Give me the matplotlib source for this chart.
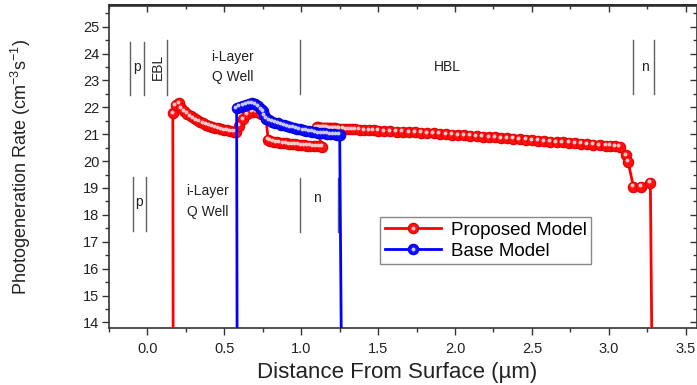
import numpy as np
import matplotlib
matplotlib.use('Agg')
from matplotlib import pyplot as plt
from matplotlib import transforms
from matplotlib.legend_handler import HandlerTuple

plt.rcParams['font.family'] = ['Liberation Sans', 'DejaVu Sans']
plt.rcParams['mathtext.default'] = 'regular'

# Proposed model (red)
prop_x = [0.168, 0.165, 0.184, 0.205, 0.22, 0.24, 0.26, 0.28, 0.30, 0.32, 0.34, 0.36,
          0.38, 0.40, 0.42, 0.44, 0.46, 0.48, 0.50, 0.52, 0.54, 0.56, 0.575,
          0.595, 0.62, 0.65, 0.68, 0.71, 0.74, 0.77, 0.785,
          0.80, 0.82, 0.84, 0.86, 0.88, 0.90, 0.92, 0.94, 0.96, 0.98, 1.00, 1.02,
          1.04, 1.06, 1.08, 1.10, 1.12, 1.135,
          1.10, 1.11, 1.12, 1.13, 1.14, 1.15, 1.16, 1.17, 1.18, 1.19, 1.20, 1.21,
          1.22, 1.23, 1.24, 1.25, 1.27, 1.29, 1.31, 1.33, 1.35, 1.38, 1.41, 1.44,
          1.47, 1.50, 1.54, 1.58, 1.62, 1.66, 1.70, 1.74, 1.78, 1.82, 1.86, 1.90,
          1.94, 1.98, 2.02, 2.06, 2.10, 2.14, 2.18, 2.22, 2.26, 2.30, 2.34, 2.38,
          2.42, 2.46, 2.50, 2.54, 2.58, 2.62, 2.66, 2.70, 2.74, 2.78, 2.82, 2.86,
          2.90, 2.94, 2.98, 3.01, 3.04, 3.07,
          3.11, 3.125, 3.16, 3.21, 3.27, 3.285]
prop_y = [10.0, 21.78, 22.09, 22.15, 21.98, 21.86, 21.76, 21.67, 21.59, 21.52, 21.46, 21.41,
          21.36, 21.32, 21.28, 21.25, 21.22, 21.19, 21.16, 21.14, 21.12, 21.10, 21.09,
          21.32, 21.56, 21.74, 21.84, 21.84, 21.75, 21.62, 20.80,
          20.76, 20.73, 20.71, 20.69, 20.67, 20.66, 20.64, 20.63, 20.62, 20.61, 20.60, 20.59,
          20.58, 20.57, 20.56, 20.555, 20.55, 20.54,
          21.26, 21.26, 21.25, 21.25, 21.25, 21.24, 21.24, 21.24, 21.23, 21.23, 21.22, 21.22,
          21.22, 21.21, 21.21, 21.20, 21.20, 21.19, 21.19, 21.18, 21.18, 21.17, 21.16, 21.15,
          21.14, 21.13, 21.12, 21.11, 21.10, 21.09, 21.08, 21.07, 21.06, 21.04, 21.03, 21.02,
          21.00, 20.99, 20.97, 20.96, 20.94, 20.93, 20.91, 20.90, 20.88, 20.86, 20.85, 20.83,
          20.81, 20.80, 20.78, 20.76, 20.75, 20.73, 20.71, 20.70, 20.68, 20.66, 20.65, 20.63,
          20.61, 20.60, 20.58, 20.57, 20.55, 20.53,
          20.23, 19.98, 19.05, 19.05, 19.20, 10.0]

# Base model (blue)
base_x = [0.584, 0.58, 0.60, 0.62, 0.64, 0.66, 0.68, 0.70, 0.72, 0.74, 0.75, 0.76, 0.77,
          0.79, 0.81, 0.83, 0.85, 0.87, 0.89, 0.91, 0.93, 0.95, 0.97, 0.99, 1.01, 1.03,
          1.05, 1.07, 1.09, 1.11, 1.13, 1.15, 1.17, 1.19, 1.21, 1.23, 1.25, 1.265]
base_y = [10.0, 21.98, 22.02, 22.06, 22.10, 22.13, 22.15, 22.12, 22.04, 21.93, 21.85, 21.70, 21.58,
          21.52, 21.47, 21.43, 21.40, 21.36, 21.33, 21.30, 21.27, 21.24, 21.21, 21.18, 21.15, 21.13,
          21.11, 21.09, 21.07, 21.05, 21.04, 21.03, 21.02, 21.01, 21.00, 20.99, 20.98, 10.0]

# region markers: (x, ymin, ymax)
top_lines = [(-0.115, 22.46, 24.44), (-0.022, 22.46, 24.44), (0.13, 22.46, 24.5),
             (0.995, 22.5, 24.5), (3.16, 22.5, 24.5), (3.295, 22.5, 24.5)]
bot_lines = [(-0.097, 17.41, 19.42), (-0.011, 17.41, 19.42), (0.995, 17.37, 19.37),
             (1.24, 17.37, 19.37)]
labels = [(-0.065, 23.5, 'p', 0), (0.065, 23.5, 'EBL', 90), (0.556, 23.88, 'i-Layer', 0),
          (0.556, 23.12, 'Q Well', 0), (1.948, 23.5, 'HBL', 0), (3.235, 23.5, 'n', 0),
          (-0.054, 18.49, 'p', 0), (0.39, 18.9, 'i-Layer', 0), (0.39, 18.12, 'Q Well', 0),
          (1.10, 18.62, 'n', 0)]

fig = plt.figure(figsize=(6.97, 3.85), dpi=100)
ax = fig.add_axes([109/697, 1-328.3/385, (696.5-109)/697, (328.3-5.5)/385])

hl = transforms.offset_copy(ax.transData, fig=fig, x=-0.9, y=1.0, units='points')

p1, = ax.plot(prop_x, prop_y, color='#ff0000', lw=2, marker='o', ms=7.5,
              mfc='#ff1010', mec='#e00000', mew=0.8, zorder=3)
p1h, = ax.plot(prop_x, prop_y, ls='none', marker='o', ms=2.8, mfc='#ffc8c8', mec='none',
               transform=hl, zorder=3)
b1, = ax.plot(base_x, base_y, color='#0000ff', lw=2, marker='o', ms=7.5,
              mfc='#1010ff', mec='#0000e0', mew=0.8, zorder=4)
b1h, = ax.plot(base_x, base_y, ls='none', marker='o', ms=2.8, mfc='#c8c8ff', mec='none',
               transform=hl, zorder=4)

for x, y0, y1 in top_lines + bot_lines:
    ax.plot([x, x], [y0, y1], color='#606060', lw=1.0, zorder=2)
for x, y, s, r in labels:
    ax.text(x, y, s, ha='center', va='center', rotation=r, fontsize=10, color='#222222')

ax.set_xlim(-0.245, 3.57)
ax.set_ylim(13.78, 25.79)
ax.set_xticks(np.arange(0, 3.6, 0.5))
ax.set_xticks(np.arange(-0.25, 3.6, 0.25), minor=True)
ax.set_yticks(np.arange(14, 26, 1))
ax.set_yticks(np.arange(14, 26, 0.5), minor=True)
ax.xaxis.set_major_formatter(matplotlib.ticker.FormatStrFormatter('%.1f'))
ax.tick_params(which='major', direction='out', length=5, width=1, labelsize=10.5, colors='#333333')
ax.tick_params(which='minor', direction='out', length=3, width=1, colors='#333333')
ax.tick_params(axis='x', pad=5, labelcolor='#222222')
ax.tick_params(axis='y', pad=2, labelcolor='#222222')
for s in ax.spines.values():
    s.set_linewidth(1.2)
    s.set_color('#333333')

# inward ticks on top and right
secx = ax.secondary_xaxis('top')
secx.set_xticks(np.arange(0, 3.6, 0.5))
secx.set_xticks(np.arange(-0.25, 3.6, 0.25), minor=True)
secx.tick_params(which='major', direction='in', length=5, width=1, labeltop=False, colors='#333333')
secx.tick_params(which='minor', direction='in', length=3, width=1, colors='#333333')
secx.spines['top'].set_linewidth(1.2)
secy = ax.secondary_yaxis('right')
secy.set_yticks(np.arange(14, 26, 1))
secy.set_yticks(np.arange(14, 26, 0.5), minor=True)
secy.tick_params(which='major', direction='in', length=5, width=1, labelright=False, colors='#333333')
secy.tick_params(which='minor', direction='in', length=3, width=1, colors='#333333')

ax.set_xlabel('Distance From Surface (\u00b5m)', fontsize=16, color='#222222')
ax.xaxis.set_label_coords(0.49, -0.105)
ax.set_ylabel('Photogeneration Rate (cm$^{-3}$s$^{-1}$)', fontsize=13,
              family=['Liberation Sans Narrow', 'Liberation Sans', 'DejaVu Sans'], color='#222222')
ax.yaxis.set_label_coords(-0.13, 0.5)

leg = ax.legend([(p1, p1h), (b1, b1h)], ['Proposed Model', 'Base Model'],
                handler_map={tuple: HandlerTuple(ndivide=1, pad=0)},
                loc='lower left', bbox_to_anchor=(0.462, 0.198), fontsize=13.5,
                frameon=True, fancybox=False, edgecolor='#888888', framealpha=1,
                handlelength=3.0, borderpad=0.25, labelspacing=0.2, handletextpad=0.5,
                borderaxespad=0)
leg.get_frame().set_linewidth(1.0)

fig.savefig('out.png', dpi=100)
